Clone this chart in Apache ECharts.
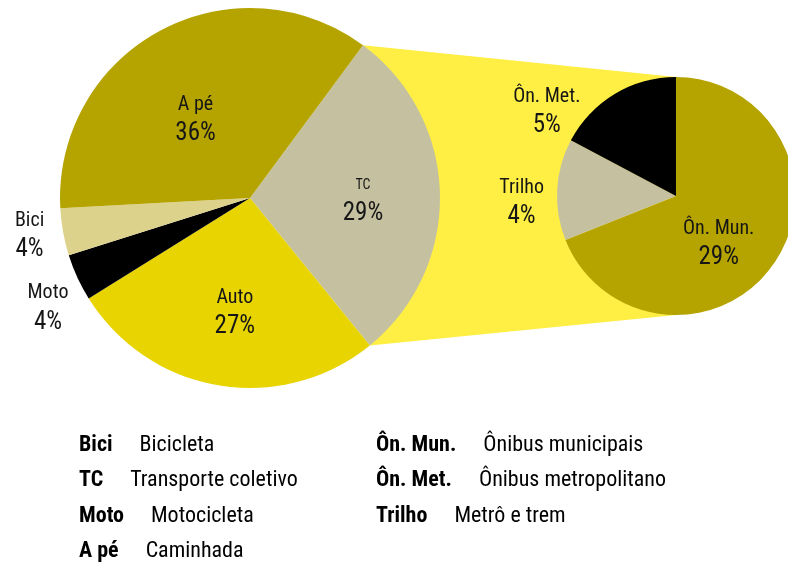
<!DOCTYPE html>
<html>
<head>
<meta charset="utf-8">
<script src="https://cdn.jsdelivr.net/npm/echarts@6/dist/echarts.min.js"></script>
<style>
html,body{margin:0;padding:0;background:#fff;}
#chart{width:788px;height:563px;}
</style>
</head>
<body>
<div id="chart"></div>
<script>
// ---- Data ----
const mainCategories = ['TC', 'Auto', 'Moto', 'Bici', 'A pé'];
const mainValues = [29, 27, 4, 4, 36];

const subCategories = ['Ôn. Mun.', 'Trilho', 'Ôn. Met.'];
const subValues = [20, 4, 5];        // slice sizes (share of TC)
const subPrinted = [29, 4, 5];       // percentages printed on the chart

const legendLeftAbbr = ['Bici', 'TC', 'Moto', 'A pé'];
const legendLeftDesc = ['Bicicleta', 'Transporte coletivo', 'Motocicleta', 'Caminhada'];
const legendRightAbbr = ['Ôn. Mun.', 'Ôn. Met.', 'Trilho'];
const legendRightDesc = ['Ônibus municipais', 'Ônibus metropolitano', 'Metrô e trem'];

// ---- Styles / layout ----
const FONT = "'Roboto Condensed', 'Open Sans Condensed', 'Noto Sans Condensed', 'DejaVu Sans Condensed', sans-serif";
const TXT = '#161616';
const mainColors = {'TC': '#C5C1A0', 'Auto': '#E8D400', 'Moto': '#000000', 'Bici': '#DDD28B', 'A pé': '#B5A400'};
const subColors = {'Ôn. Mun.': '#B5A400', 'Trilho': '#C5C1A0', 'Ôn. Met.': '#000000'};
const mainLabelOffset = {'TC': [15, 4], 'Auto': [1, 18], 'Moto': [-113, 69], 'Bici': [-124, 20], 'A pé': [-8, 8]};
const subLabelOffset = {'Ôn. Mun.': [-9, 12], 'Trilho': [-92, 10], 'Ôn. Met.': [-97, -31]};

const MAIN_C = [250, 198], MAIN_R = 190, MAIN_START = 53.5;
const SUB_C = [676, 196], SUB_R = 119, SUB_START = 90;

const chart = echarts.init(document.getElementById('chart'));

const rich = {
  n: {fontFamily: FONT, fontSize: 20, color: TXT, lineHeight: 29, align: 'center'},
  s: {fontFamily: FONT, fontSize: 14, color: TXT, lineHeight: 28, align: 'center'},
  p: {fontFamily: FONT, fontSize: 25, color: TXT, lineHeight: 29, align: 'center'}
};

const mainData = mainCategories.map((c, i) => ({
  name: c, value: mainValues[i],
  itemStyle: {color: mainColors[c]},
  label: {offset: mainLabelOffset[c]}
}));
const subData = subCategories.map((c, i) => ({
  name: c, value: subValues[i], printed: subPrinted[i],
  itemStyle: {color: subColors[c]},
  label: {offset: subLabelOffset[c]}
}));

// connector polygon derived from the TC slice angles and pie geometry
const total = mainValues.reduce((a, b) => a + b, 0);
const tcIdx = mainCategories.indexOf('TC');
let before = 0;
for (let i = 0; i < tcIdx; i++) before += mainValues[i];
const a1 = (MAIN_START - before / total * 360) * Math.PI / 180;
const a2 = (MAIN_START - (before + mainValues[tcIdx]) / total * 360) * Math.PI / 180;
const p1 = [MAIN_C[0] + MAIN_R * Math.cos(a1), MAIN_C[1] - MAIN_R * Math.sin(a1)];
const p2 = [MAIN_C[0] + MAIN_R * Math.cos(a2), MAIN_C[1] - MAIN_R * Math.sin(a2)];
const q1 = [SUB_C[0], SUB_C[1] - SUB_R];
const q2 = [SUB_C[0], SUB_C[1] + SUB_R];

const legendRich = {
  b: {fontFamily: FONT, fontSize: 22, fontWeight: 'bold', color: TXT},
  d: {fontFamily: FONT, fontSize: 22, color: TXT, padding: [0, 0, 0, 27]}
};
const legendGraphics = [];
const ROW0 = 445, ROWH = 35.5;
legendLeftAbbr.forEach((a, i) => legendGraphics.push({
  type: 'text', left: 79, top: ROW0 + i * ROWH - 11, silent: true,
  style: {text: '{b|' + a + '}{d|' + legendLeftDesc[i] + '}', rich: legendRich}
}));
legendRightAbbr.forEach((a, i) => legendGraphics.push({
  type: 'text', left: 376, top: ROW0 + i * ROWH - 11, silent: true,
  style: {text: '{b|' + a + '}{d|' + legendRightDesc[i] + '}', rich: legendRich}
}));

chart.setOption({
  animation: false,
  backgroundColor: '#ffffff',
  graphic: [
    {type: 'polygon', z: 0, silent: true,
     shape: {points: [p1, q1, q2, p2]},
     style: {fill: '#FFEE44'}}
  ].concat(legendGraphics),
  series: [
    {
      type: 'pie', z: 3,
      center: MAIN_C, radius: MAIN_R,
      startAngle: MAIN_START, clockwise: true,
      avoidLabelOverlap: false,
      itemStyle: {borderWidth: 0},
      emphasis: {disabled: true},
      label: {
        show: true, position: 'inside',
        formatter: p => (p.name === 'TC' ? '{s|' + p.name + '}' : '{n|' + p.name + '}') + '\n{p|' + p.value + '%}',
        rich: rich
      },
      labelLine: {show: false},
      data: mainData
    },
    {
      type: 'pie', z: 3,
      center: SUB_C, radius: SUB_R,
      startAngle: SUB_START, clockwise: true,
      avoidLabelOverlap: false,
      itemStyle: {borderWidth: 0},
      emphasis: {disabled: true},
      label: {
        show: true, position: 'inside',
        formatter: p => '{n|' + p.name + '}\n{p|' + p.data.printed + '%}',
        rich: rich
      },
      labelLine: {show: false},
      data: subData
    }
  ]
});
</script>
</body>
</html>
